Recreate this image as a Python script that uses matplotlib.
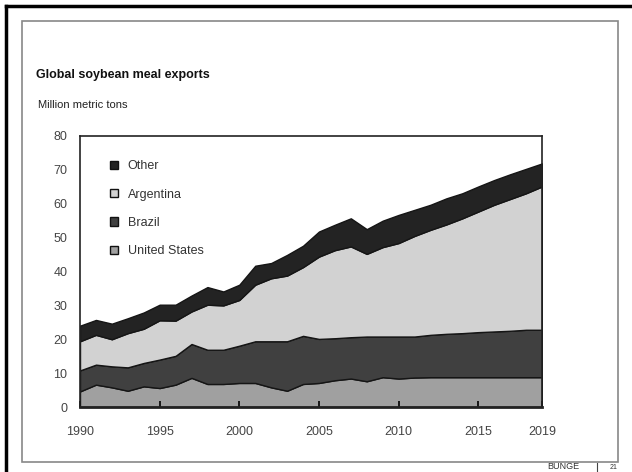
import matplotlib.pyplot as plt
from matplotlib.patches import Patch, Rectangle
from matplotlib.lines import Line2D

plt.rcParams['font.family'] = ['Liberation Sans', 'DejaVu Sans']

years = list(range(1990, 2020))

# values (million metric tons), per country, not stacked
us = [4.6, 6.6, 5.8, 4.8, 6.1, 5.6, 6.6, 8.6, 6.8, 6.8,
      7.1, 7.1, 5.8, 4.8, 6.8, 7.1, 7.9, 8.4, 7.6, 8.8,
      8.4, 8.7, 8.8, 8.8, 8.8, 8.8, 8.8, 8.8, 8.8, 8.8]
brazil_top = [10.8, 12.5, 12.0, 11.7, 13.0, 14.0, 15.1, 18.6, 16.9, 16.9,
              18.1, 19.4, 19.4, 19.4, 21.0, 20.1, 20.3, 20.6, 20.8, 20.8,
              20.8, 20.8, 21.3, 21.6, 21.8, 22.1, 22.3, 22.5, 22.8, 22.8]
argentina_top = [19.4, 21.3, 20.0, 21.8, 23.1, 25.6, 25.5, 28.2, 30.2, 30.0,
                 31.6, 36.1, 38.0, 38.8, 41.3, 44.4, 46.3, 47.4, 45.2, 47.2,
                 48.4, 50.5, 52.3, 53.9, 55.7, 57.7, 59.7, 61.4, 63.1, 65.1]
total = [24.0, 25.7, 24.6, 26.2, 27.9, 30.2, 30.2, 32.9, 35.4, 34.1,
         36.1, 41.7, 42.5, 44.9, 47.6, 51.8, 53.8, 55.7, 52.5, 55.0,
         56.7, 58.2, 59.7, 61.6, 63.1, 65.1, 67.0, 68.7, 70.3, 71.9]

brazil = [b - u for b, u in zip(brazil_top, us)]
argentina = [a - b for a, b in zip(argentina_top, brazil_top)]
other = [t - a for t, a in zip(total, argentina_top)]

labels = ['United States', 'Brazil', 'Argentina', 'Other']
colors = ['#a0a0a0', '#404040', '#d2d2d2', '#232323']
xtick_labels = ['1990', '1995', '2000', '2005', '2010', '2015', '2019']

fig = plt.figure(figsize=(6.32, 4.72), dpi=100)

# slide decorations
fig.add_artist(Line2D([6 / 632, 6 / 632], [0, 1 - 6 / 472], color='black', lw=2.5))
fig.add_artist(Line2D([6 / 632, 1], [1 - 6 / 472, 1 - 6 / 472], color='black', lw=2.5))
fig.add_artist(Rectangle((22 / 632, 1 - 462 / 472), (618 - 22) / 632, (462 - 21) / 472,
                         fill=False, edgecolor='#888888', lw=1.2))
fig.add_artist(Line2D([597 / 632, 597 / 632], [0, 1 - 463 / 472], color='#444444', lw=0.8))
fig.text(547 / 632, 1 - 471 / 472, 'BUNGE', fontsize=6.5, color='#333333', va='bottom')
fig.text(610 / 632, 1 - 471 / 472, '21', fontsize=5, color='#333333', va='bottom')

fig.text(36 / 632, 1 - 75 / 472, 'Global soybean meal exports', fontsize=9,
         fontweight='bold', va='center', color='#111111')
fig.text(38 / 632, 1 - 105 / 472, 'Million metric tons', fontsize=8,
         va='center', color='#222222')

ax = fig.add_axes([80 / 632, 1 - 407 / 472, 462 / 632, 271 / 472])
ax.stackplot(years, us, brazil, argentina, other, colors=colors,
             edgecolor='#151515', linewidth=1.0)

ax.set_xlim(1990, 2019)
ax.set_ylim(0, 80)
ax.set_xticks([1990, 1995, 2000, 2005, 2010, 2015, 2019])
ax.set_xticklabels(xtick_labels)
ax.set_yticks(range(0, 81, 10))
ax.tick_params(axis='x', direction='in', length=4, width=1.2, pad=14,
               labelsize=9, labelcolor='#444444')
ax.tick_params(axis='y', length=0, pad=9, labelsize=9, labelcolor='#444444')
for s in ax.spines.values():
    s.set_linewidth(1.2)
    s.set_color('#222222')
ax.spines['bottom'].set_linewidth(2)

handles = [Patch(facecolor=c, edgecolor='#111111', linewidth=1.0, label=l)
           for c, l in zip(colors, labels)][::-1]
ax.legend(handles=handles, loc='upper left', bbox_to_anchor=(0.065, 0.91),
          frameon=False, borderpad=0, borderaxespad=0, handlelength=0.65,
          handleheight=0.65, handletextpad=0.75, labelspacing=1.3,
          fontsize=9, labelcolor='#333333')

fig.savefig('out.png', dpi=100)
